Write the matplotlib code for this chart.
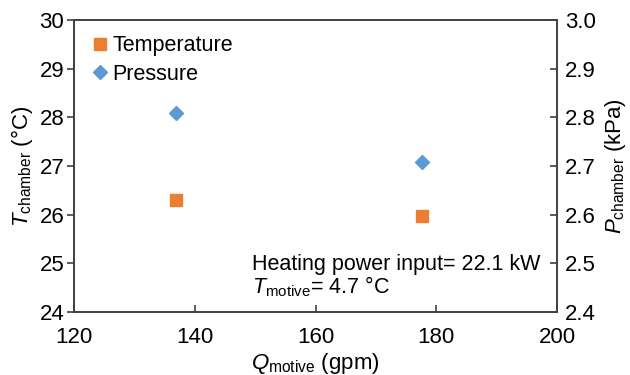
import matplotlib
matplotlib.use("Agg")
import matplotlib.pyplot as plt

plt.rcParams['font.family'] = ['Liberation Sans', 'DejaVu Sans']
plt.rcParams['mathtext.fontset'] = 'custom'
plt.rcParams['mathtext.rm'] = 'Liberation Sans'
plt.rcParams['mathtext.it'] = 'Liberation Sans:italic'

# data
q_motive = [136.9, 177.7]
t_chamber = [26.31, 25.97]
p_chamber = [2.809, 2.709]

orange = '#ED7D31'
blue = '#5B9BD5'
axis_col = '#404040'

fig = plt.figure(figsize=(6.3, 3.75), dpi=100)
ax = fig.add_axes([74 / 630, 1 - 312 / 375, (557 - 74) / 630, (312 - 20) / 375])
ax2 = ax.twinx()

l1, = ax.plot(q_motive, t_chamber, 's', color=orange, ms=9, label='Temperature')
l2, = ax2.plot(q_motive, p_chamber, 'D', color=blue, ms=7, label='Pressure')

ax.set_xlim(120, 200)
ax.set_ylim(24, 30)
ax2.set_ylim(2.4, 3.0)
ax.set_xticks([120, 140, 160, 180, 200])
ax.set_yticks([24, 25, 26, 27, 28, 29, 30])
ax2.set_yticks([2.4, 2.5, 2.6, 2.7, 2.8, 2.9, 3.0])
ax2.set_yticklabels(['2.4', '2.5', '2.6', '2.7', '2.8', '2.9', '3.0'])

for a in (ax, ax2):
    for s in a.spines.values():
        s.set_color(axis_col)
        s.set_linewidth(1.2)
    a.tick_params(labelsize=16, width=1.2, color=axis_col, length=5)

ax.tick_params(axis='x', direction='in', pad=11)
ax.tick_params(axis='y', direction='out', pad=2)
ax2.tick_params(axis='y', direction='in', pad=6)

ax.set_xlabel(r'$Q_{\rm motive}$ (gpm)', fontsize=16, labelpad=2)
ax.set_ylabel(r'$T_{\rm chamber}$ (°C)', fontsize=16, labelpad=3)
ax2.set_ylabel(r'$P_{\rm chamber}$ (kPa)', fontsize=16, labelpad=5)

ax.legend(handles=[l1, l2], loc='upper left', frameon=False, fontsize=15.5,
          handletextpad=0.1, handlelength=1.0, borderaxespad=0.3,
          labelspacing=0.35)

ax.text(0.368, 0.162, 'Heating power input= 22.1 kW', transform=ax.transAxes,
        fontsize=15.5, ha='left', va='center')
ax.text(0.368, 0.085, r'$T_{\rm motive}$= 4.7 °C', transform=ax.transAxes,
        fontsize=15.5, ha='left', va='center')

fig.savefig('out.png', dpi=100)
